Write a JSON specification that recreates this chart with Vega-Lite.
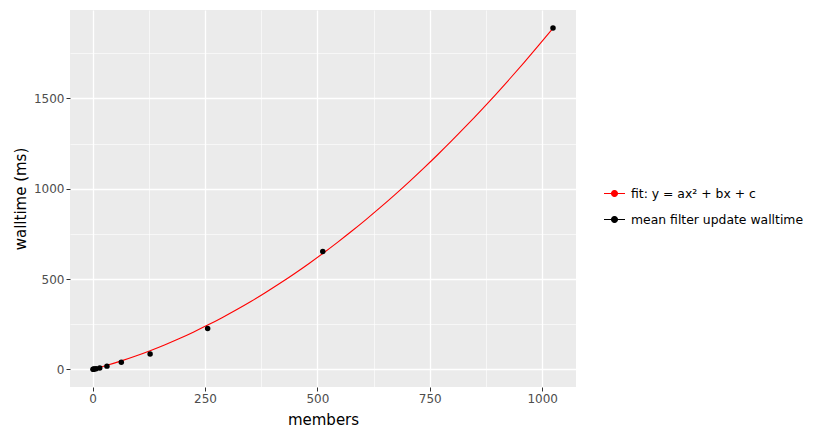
{
  "$schema": "https://vega.github.io/schema/vega-lite/v6.json",
  "width": 506,
  "height": 377,
  "autosize": {"type": "none"},
  "padding": {"left": 70, "top": 10, "right": 255, "bottom": 51},
  "background": "white",
  "config": {
    "font": "DejaVu Sans",
    "view": {"fill": "#ebebeb", "stroke": null},
    "axis": {
      "domain": false,
      "gridColor": "white",
      "labelColor": "#4d4d4d",
      "labelFont": "DejaVu Sans",
      "labelFontSize": 12,
      "tickColor": "#333333",
      "tickSize": 4,
      "titleFont": "DejaVu Sans",
      "titleFontSize": 15,
      "titleFontWeight": "normal",
      "titleColor": "black"
    }
  },
  "datasets": {
    "points": [
      {"members": 1, "walltime": 0.4, "series": "mean filter update walltime"},
      {"members": 2, "walltime": 0.8, "series": "mean filter update walltime"},
      {"members": 4, "walltime": 1.6, "series": "mean filter update walltime"},
      {"members": 8, "walltime": 3.5, "series": "mean filter update walltime"},
      {"members": 16, "walltime": 7.5, "series": "mean filter update walltime"},
      {"members": 32, "walltime": 18, "series": "mean filter update walltime"},
      {"members": 64, "walltime": 40, "series": "mean filter update walltime"},
      {"members": 128, "walltime": 85, "series": "mean filter update walltime"},
      {"members": 256, "walltime": 226, "series": "mean filter update walltime"},
      {"members": 512, "walltime": 652, "series": "mean filter update walltime"},
      {"members": 1024, "walltime": 1890, "series": "mean filter update walltime"}
    ],
    "fit": [
      {"members": 1, "walltime": 0.7, "series": "fit: y = ax² + bx + c"},
      {"members": 16, "walltime": 10.9, "series": "fit: y = ax² + bx + c"},
      {"members": 32, "walltime": 22.4, "series": "fit: y = ax² + bx + c"},
      {"members": 64, "walltime": 47.1, "series": "fit: y = ax² + bx + c"},
      {"members": 96, "walltime": 74.1, "series": "fit: y = ax² + bx + c"},
      {"members": 128, "walltime": 103.6, "series": "fit: y = ax² + bx + c"},
      {"members": 160, "walltime": 135.4, "series": "fit: y = ax² + bx + c"},
      {"members": 192, "walltime": 169.6, "series": "fit: y = ax² + bx + c"},
      {"members": 224, "walltime": 206.1, "series": "fit: y = ax² + bx + c"},
      {"members": 256, "walltime": 245.0, "series": "fit: y = ax² + bx + c"},
      {"members": 288, "walltime": 286.3, "series": "fit: y = ax² + bx + c"},
      {"members": 320, "walltime": 330.0, "series": "fit: y = ax² + bx + c"},
      {"members": 352, "walltime": 375.9, "series": "fit: y = ax² + bx + c"},
      {"members": 384, "walltime": 424.3, "series": "fit: y = ax² + bx + c"},
      {"members": 416, "walltime": 475.1, "series": "fit: y = ax² + bx + c"},
      {"members": 448, "walltime": 528.2, "series": "fit: y = ax² + bx + c"},
      {"members": 480, "walltime": 583.6, "series": "fit: y = ax² + bx + c"},
      {"members": 512, "walltime": 641.5, "series": "fit: y = ax² + bx + c"},
      {"members": 544, "walltime": 701.7, "series": "fit: y = ax² + bx + c"},
      {"members": 576, "walltime": 764.2, "series": "fit: y = ax² + bx + c"},
      {"members": 608, "walltime": 829.2, "series": "fit: y = ax² + bx + c"},
      {"members": 640, "walltime": 896.5, "series": "fit: y = ax² + bx + c"},
      {"members": 672, "walltime": 966.1, "series": "fit: y = ax² + bx + c"},
      {"members": 704, "walltime": 1038.1, "series": "fit: y = ax² + bx + c"},
      {"members": 736, "walltime": 1112.5, "series": "fit: y = ax² + bx + c"},
      {"members": 768, "walltime": 1189.3, "series": "fit: y = ax² + bx + c"},
      {"members": 800, "walltime": 1268.4, "series": "fit: y = ax² + bx + c"},
      {"members": 832, "walltime": 1349.9, "series": "fit: y = ax² + bx + c"},
      {"members": 864, "walltime": 1433.7, "series": "fit: y = ax² + bx + c"},
      {"members": 896, "walltime": 1519.9, "series": "fit: y = ax² + bx + c"},
      {"members": 928, "walltime": 1608.5, "series": "fit: y = ax² + bx + c"},
      {"members": 960, "walltime": 1699.5, "series": "fit: y = ax² + bx + c"},
      {"members": 992, "walltime": 1792.8, "series": "fit: y = ax² + bx + c"},
      {"members": 1024, "walltime": 1888.5, "series": "fit: y = ax² + bx + c"}
    ]
  },
  "encoding": {
    "x": {
      "field": "members",
      "type": "quantitative",
      "title": "members",
      "scale": {"domain": [-50.15, 1075.15], "nice": false, "zero": false},
      "axis": {
        "values": [0, 125, 250, 375, 500, 625, 750, 875, 1000],
        "format": "d",
        "labelExpr": "datum.value % 250 === 0 ? datum.label : ''",
        "gridWidth": {"condition": {"test": "datum.value % 250 !== 0", "value": 0.6}, "value": 1.3},
        "tickOpacity": {"condition": {"test": "datum.value % 250 !== 0", "value": 0}, "value": 1},
        "labelPadding": 2,
        "titlePadding": 8
      }
    },
    "y": {
      "field": "walltime",
      "type": "quantitative",
      "title": "walltime (ms)",
      "scale": {"domain": [-97.5, 1989], "nice": false, "zero": false},
      "axis": {
        "values": [0, 250, 500, 750, 1000, 1250, 1500, 1750],
        "labelExpr": "datum.value % 500 === 0 ? datum.label : ''",
        "format": "d",
        "gridWidth": {"condition": {"test": "datum.value % 500 !== 0", "value": 0.6}, "value": 1.3},
        "tickOpacity": {"condition": {"test": "datum.value % 500 !== 0", "value": 0}, "value": 1},
        "labelPadding": 2,
        "titlePadding": 5
      }
    },
    "color": {
      "field": "series",
      "type": "nominal",
      "scale": {
        "domain": ["fit: y = ax² + bx + c", "mean filter update walltime"],
        "range": ["#ff0000", "#000000"]
      },
      "legend": {
        "title": null,
        "orient": "none",
        "legendX": 533,
        "legendY": 172,
        "padding": 0,
        "symbolType": "M-1,0L1,0M-0.28,0A0.28,0.28 0 1,0 0.28,0A0.28,0.28 0 1,0 -0.28,0",
        "symbolSize": 441,
        "symbolStrokeWidth": 1.2,
        "symbolFillColor": null,
        "labelFont": "DejaVu Sans",
        "labelFontSize": 12.4,
        "labelColor": "black",
        "labelLimit": 300,
        "labelOffset": 5,
        "rowPadding": 8
      }
    }
  },
  "layer": [
    {
      "data": {"name": "fit"},
      "mark": {"type": "line", "strokeWidth": 1.1, "interpolate": "monotone"}
    },
    {
      "data": {"name": "points"},
      "mark": {"type": "point", "filled": true, "size": 30, "opacity": 1}
    }
  ]
}
